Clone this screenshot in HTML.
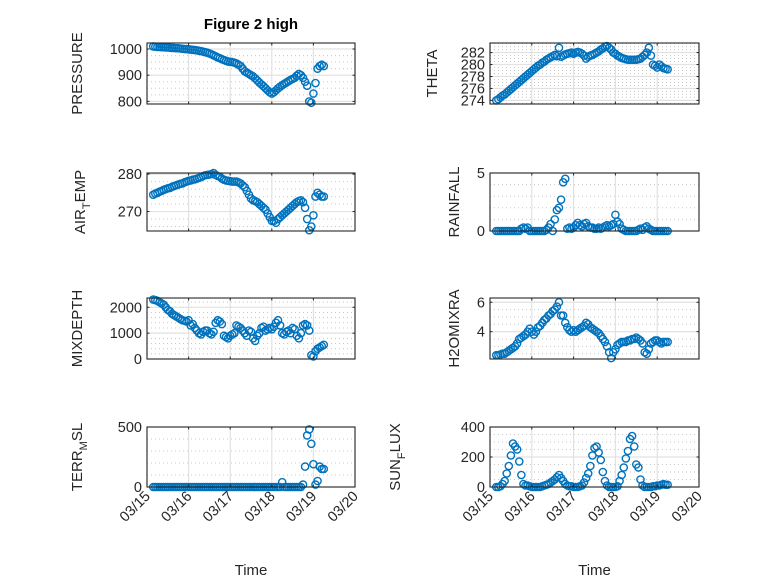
<!DOCTYPE html>
<html><head><meta charset="utf-8"><style>
body{margin:0;background:#fff;}
svg{display:block;font-family:"Liberation Sans",sans-serif;}
text{fill:#262626;}
</style></head><body>
<svg id="fig" width="778" height="583" viewBox="0 0 778 583" xmlns="http://www.w3.org/2000/svg">
<text x="251" y="29" font-size="15" font-weight="bold" text-anchor="middle" style="fill:#000">Figure 2 high</text>
</svg>
<script>
const times=[0.15,0.2,0.25,0.3,0.35,0.4,0.45,0.5,0.55,0.6,0.65,0.7,0.75,0.8,0.85,0.9,0.95,1.0,1.05,1.1,1.15,1.2,1.25,1.3,1.35,1.4,1.45,1.5,1.55,1.6,1.65,1.7,1.75,1.8,1.85,1.9,1.95,2.0,2.05,2.1,2.15,2.2,2.25,2.3,2.35,2.4,2.45,2.5,2.55,2.6,2.65,2.7,2.75,2.8,2.85,2.9,2.95,3.0,3.05,3.1,3.15,3.2,3.25,3.3,3.35,3.4,3.45,3.5,3.55,3.6,3.65,3.7,3.75,3.8,3.85,3.9,3.95,4.0,4.05,4.1,4.15,4.2,4.25];
const pressure=[1010,1009,1008,1008,1007,1007,1006,1006,1005,1004,1004,1003,1003,1002,1001,1000,1000,999,998,997,996,995,993,992,990,988,986,983,980,976,972,968,965,961,958,955,952,951,950,948,945,940,935,925,915,910,905,900,895,888,880,872,865,858,850,842,835,830,835,842,850,856,862,867,872,877,882,886,890,898,905,900,890,875,860,800,795,830,870,925,935,940,935];
const airTemp=[274.5,274.8,275,275.3,275.5,275.8,276,276.2,276.3,276.6,276.8,277,277.2,277.4,277.5,277.8,278,278.2,278.3,278.5,278.6,278.8,279,279.2,279.5,279.7,279.8,279.9,280,280.3,279.8,279.5,279.3,278.8,278.5,278.3,278.2,278.1,278,278,278,277.8,277.5,277,276.5,275.5,274.5,273.5,273,272.8,272.5,272,271.5,271,270.5,269.5,268.5,267.5,267.5,267,268,268.5,269,269.5,270,270.5,271,271.5,272,272.5,272.8,273,272.5,271,268,265,266,269,274,275,274.5,274,274];
const theta=[274,274.2,274.5,274.8,275,275.3,275.6,275.9,276.2,276.5,276.8,277.1,277.4,277.7,278,278.3,278.6,278.9,279.2,279.5,279.8,280,280.3,280.5,280.8,281,281.2,281.4,281.6,281.4,282.8,281.3,281.5,281.7,281.8,281.9,282,281.8,282,282.1,282,281.8,281.5,281,281.3,281.5,281.6,281.8,282,282.2,282.5,282.7,283,283.1,282.8,282.5,282,281.8,281.5,281.3,281.1,281,280.9,280.8,280.8,280.8,280.8,280.8,280.9,281,281.3,281.6,282,282.8,281.5,280,279.8,279.5,280,279.7,279.4,279.3,279.2];
const rainfall=[0,0,0,0,0,0,0,0,0,0,0,0,0.2,0.3,0.2,0.3,0,0,0,0,0,0,0,0,0.1,0.3,0.6,0,1.0,1.8,2.0,2.7,4.2,4.5,0.2,0.3,0.2,0.3,0.5,0.7,0.5,0.4,0.6,0.7,0.4,0.3,0.3,0.2,0.2,0.3,0.2,0.3,0.4,0.5,0.4,0.5,0.6,1.4,0.8,0.6,0.2,0.1,0,0,0,0,0,0,0.1,0.2,0.1,0.3,0.4,0.2,0.1,0,0,0,0,0,0,0,0];
const mixDepth=[2300,2280,2250,2200,2150,2100,2000,1900,1850,1750,1700,1650,1600,1550,1500,1480,1450,1500,1300,1350,1200,1100,1000,950,1050,1100,1100,1000,950,1050,1400,1500,1450,1350,900,850,800,900,950,1000,1300,1250,1200,1100,1000,900,1100,1050,800,700,900,1000,1200,1250,1100,1150,1200,1150,1250,1400,1500,1300,1000,950,1050,1100,1000,1200,1150,900,800,1000,1300,1350,1300,1100,150,100,300,400,450,500,550];
const h2o=[2.4,2.4,2.45,2.5,2.5,2.6,2.7,2.8,2.9,3.0,3.2,3.5,3.6,3.7,3.8,4.0,4.2,4.0,3.8,4.0,4.3,4.4,4.6,4.8,4.9,5.1,5.2,5.4,5.5,5.7,6.0,5.1,5.1,4.6,4.3,4.1,4.0,4.1,4.0,4.1,4.2,4.3,4.4,4.6,4.5,4.3,4.2,4.1,4.0,3.9,3.7,3.5,3.3,3.0,2.6,2.2,2.6,2.8,3.1,3.2,3.3,3.3,3.3,3.4,3.4,3.5,3.5,3.6,3.5,3.4,3.2,2.6,2.5,2.8,3.2,3.3,3.4,3.4,3.3,3.2,3.3,3.3,3.3];
const terrMsl=[0,0,0,0,0,0,0,0,0,0,0,0,0,0,0,0,0,0,0,0,0,0,0,0,0,0,0,0,0,0,0,0,0,0,0,0,0,0,0,0,0,0,0,0,0,0,0,0,0,0,0,0,0,0,0,0,0,0,0,0,0,0,40,0,0,0,0,0,0,0,0,0,20,170,430,480,360,190,20,50,170,150,150];
const sunFlux=[0,0,5,20,40,90,140,210,290,270,250,170,80,20,10,10,5,0,0,0,0,0,5,10,15,20,30,40,50,65,80,60,40,20,10,5,5,0,0,0,5,10,30,60,90,140,210,260,270,230,180,100,40,10,0,0,0,0,5,40,80,130,190,240,320,340,270,150,130,50,10,0,0,0,0,5,5,10,10,15,20,15,15];
const xTickLabels=["03/15","03/16","03/17","03/18","03/19","03/20"];
const xTickDays=[0,1,2,3,4,5];

const NS="http://www.w3.org/2000/svg";
const svg=document.getElementById('fig');
function mk(tag,attrs,parent){const e=document.createElementNS(NS,tag);for(const k in attrs)e.setAttribute(k,attrs[k]);(parent||svg).appendChild(e);return e;}

const panels=[
 {key:'pressure',data:pressure,x0:147,x1:355,y0:43,y1:104,lo:790,hi:1023,ticks:[800,900,1000],minor:25,label:['PRESSURE'],lx:77,bottom:false},
 {key:'theta',data:theta,x0:490,x1:699,y0:43,y1:104,lo:273.4,hi:283.6,ticks:[274,276,278,280,282],minor:0.5,label:['THETA'],lx:432,bottom:false},
 {key:'air-temp',data:airTemp,x0:147,x1:355,y0:173,y1:231,lo:264.8,hi:280.3,ticks:[270,280],minor:2,label:['AIR','T','EMP'],lx:80,bottom:false},
 {key:'rainfall',data:rainfall,x0:490,x1:699,y0:173,y1:231,lo:0,hi:5,ticks:[0,5],minor:1,label:['RAINFALL'],lx:454,bottom:false},
 {key:'mixdepth',data:mixDepth,x0:147,x1:355,y0:298,y1:359,lo:0,hi:2360,ticks:[0,1000,2000],minor:200,label:['MIXDEPTH'],lx:77,bottom:false},
 {key:'h2omixra',data:h2o,x0:490,x1:699,y0:298,y1:359,lo:2.14,hi:6.29,ticks:[4,6],minor:0.5,label:['H2OMIXRA'],lx:454,bottom:false},
 {key:'terr-msl',data:terrMsl,x0:147,x1:355,y0:427,y1:487,lo:0,hi:500,ticks:[0,500],minor:100,label:['TERR','M','SL'],lx:77,bottom:true},
 {key:'sun-flux',data:sunFlux,x0:490,x1:699,y0:427,y1:487,lo:0,hi:400,ticks:[0,200,400],minor:50,label:['SUN','F','LUX'],lx:395,bottom:true}
];

panels.forEach(p=>{
 const g=mk('g',{});
 
 
 const xs=d=>p.x0+(d-0)/(5-0)*(p.x1-p.x0);
 const ys=v=>p.y1-(v-p.lo)/(p.hi-p.lo)*(p.y1-p.y0);
 for(let v=Math.ceil(p.lo/p.minor)*p.minor;v<=p.hi+1e-9;v+=p.minor){
  const y=ys(v); if(y<=p.y0+0.5||y>=p.y1-0.5)continue;
  mk('line',{x1:p.x0,x2:p.x1,y1:y,y2:y,stroke:'#c8c8c8','stroke-width':1,'stroke-dasharray':'1 3'},g);
 }
 xTickDays.forEach(d=>{const x=xs(d);mk('line',{x1:x,x2:x,y1:p.y0,y2:p.y1,stroke:'#e2e2e2','stroke-width':1.2},g);});
 p.ticks.forEach(v=>{const y=ys(v);mk('line',{x1:p.x0,x2:p.x1,y1:y,y2:y,stroke:'#e2e2e2','stroke-width':1.2},g);});
 const dg=mk('g',{},g);
 
 
 p.data.forEach((v,i)=>{
  const c=mk('circle',{cx:xs(times[i]),cy:ys(v),r:3.6,fill:'none',stroke:'#0072BD','stroke-width':1.4},dg);
  
  
 });
 const box=mk('rect',{x:p.x0,y:p.y0,width:p.x1-p.x0,height:p.y1-p.y0,fill:'none',stroke:'#262626','stroke-width':1.1},g);
 
 
 xTickDays.forEach((d,i)=>{
  const x=xs(d);
  mk('line',{x1:x,x2:x,y1:p.y1,y2:p.y1-2.5,stroke:'#262626'},g);
  mk('line',{x1:x,x2:x,y1:p.y0,y2:p.y0+2.5,stroke:'#262626'},g);
  if(p.bottom){
   const t=mk('text',{x:x+4,y:p.y1+10,'font-size':14.5,'text-anchor':'end',transform:`rotate(-45 ${x+4} ${p.y1+10})`},g);
   t.textContent=xTickLabels[i];
   
   
  }
 });
 p.ticks.forEach(v=>{
  const y=ys(v);
  mk('line',{x1:p.x0,x2:p.x0+2.5,y1:y,y2:y,stroke:'#262626'},g);
  mk('line',{x1:p.x1,x2:p.x1-2.5,y1:y,y2:y,stroke:'#262626'},g);
  const t=mk('text',{x:p.x0-5,y:y+5,'font-size':14.5,'text-anchor':'end'},g);
  t.textContent=String(v);
  
  
 });
 const cy=(p.y0+p.y1)/2;
 const lt=mk('text',{x:0,y:0,'font-size':15,'text-anchor':'middle',transform:`translate(${p.lx+5} ${cy}) rotate(-90)`},g);
 
 
 if(p.label.length===1){lt.textContent=p.label[0];}
 else{
  const a=mk('tspan',{},lt);a.textContent=p.label[0];
  const b=mk('tspan',{dy:5,'font-size':11},lt);b.textContent=p.label[1];
  const c=mk('tspan',{dy:-5},lt);c.textContent=p.label[2];
 }
 if(p.bottom){
  const tt=mk('text',{x:(p.x0+p.x1)/2,y:575,'font-size':15,'text-anchor':'middle'},g);
  tt.textContent='Time';
  
  
 }
});
</script>
</body></html>
